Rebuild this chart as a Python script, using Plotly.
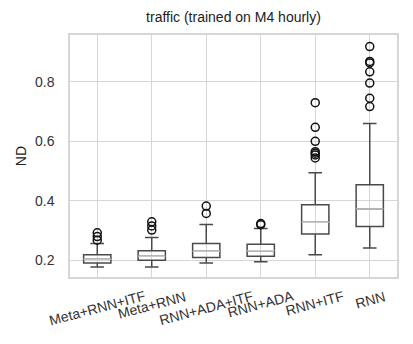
import plotly.graph_objects as go

# box statistics (ND values)
models   = ['Meta+RNN+ITF', 'Meta+RNN', 'RNN+ADA+ITF', 'RNN+ADA', 'RNN+ITF', 'RNN']
q1       = [0.190, 0.199, 0.209, 0.213, 0.288, 0.313]
median   = [0.203, 0.213, 0.230, 0.231, 0.327, 0.372]
q3       = [0.218, 0.231, 0.256, 0.253, 0.386, 0.454]
low_wh   = [0.177, 0.177, 0.190, 0.194, 0.218, 0.241]
high_wh  = [0.256, 0.276, 0.320, 0.306, 0.494, 0.660]

outliers = {
    'Meta+RNN+ITF': [0.267, 0.279, 0.292],
    'Meta+RNN':     [0.301, 0.315, 0.329],
    'RNN+ADA+ITF':  [0.357, 0.382],
    'RNN+ADA':      [0.319, 0.323],
    'RNN+ITF':      [0.544, 0.554, 0.560, 0.565, 0.600, 0.647, 0.730],
    'RNN':          [0.717, 0.745, 0.796, 0.834, 0.864, 0.869, 0.919],
}

yticks = [0.2, 0.4, 0.6, 0.8]

FONT = 'Arial, Liberation Sans, sans-serif'
EDGE = '#4a4a4a'
GRID = '#d6d6d6'

fig = go.Figure()

fig.add_trace(go.Box(
    x=models, q1=q1, median=median, q3=q3,
    lowerfence=low_wh, upperfence=high_wh,
    width=0.5, whiskerwidth=0.5,
    line=dict(color=EDGE, width=1.5),
    fillcolor='rgba(0,0,0,0)',
    boxpoints=False, showlegend=False, hoverinfo='skip',
))

# lighter median line drawn over the box
fig.add_trace(go.Box(
    x=models, q1=median, median=median, q3=median,
    lowerfence=median, upperfence=median,
    width=0.5, whiskerwidth=0,
    line=dict(color='#c8c8c8', width=1.5),
    fillcolor='rgba(0,0,0,0)',
    boxpoints=False, showlegend=False, hoverinfo='skip',
))

ox, oy = [], []
for m in models:
    for v in outliers[m]:
        ox.append(m)
        oy.append(v)
fig.add_trace(go.Scatter(
    x=ox, y=oy, mode='markers', showlegend=False,
    marker=dict(symbol='circle-open', size=8, color='#111111',
                line=dict(width=1.5, color='#111111')),
))

annots = [dict(
    x=m, y=-0.035, xref='x', yref='paper', text=m,
    showarrow=False, textangle=-15, yanchor='top', xanchor='center',
    font=dict(family=FONT, size=14, color='#333333'),
) for m in models]

# page body adds an 8px margin, so the figure is 8px smaller and margins shifted
fig.update_layout(
    width=405, height=336,
    margin=dict(l=59, r=16, t=27, b=67),
    paper_bgcolor='white', plot_bgcolor='white',
    boxmode='overlay',
    font=dict(family=FONT, size=14, color='#333333'),
    title=dict(text='traffic (trained on M4 hourly)', x=0.5, xanchor='center',
               xref='paper', y=0.973, yanchor='middle',
               font=dict(size=14, color='#222222')),
    annotations=annots,
    xaxis=dict(
        type='category', range=[-0.5, 5.5],
        showgrid=True, gridcolor=GRID, gridwidth=1,
        showticklabels=False, ticks='',
        showline=True, linecolor=GRID, linewidth=1.5, mirror=True,
    ),
    yaxis=dict(
        range=[0.143, 0.958], tickvals=yticks, ticktext=[f'{v:.1f}' for v in yticks],
        showgrid=True, gridcolor=GRID, gridwidth=1, zeroline=False,
        showline=True, linecolor=GRID, linewidth=1.5, mirror=True,
        ticks='', ticklabelstandoff=11, tickfont=dict(size=14, color='#333333'),
        title=dict(text='ND', font=dict(size=14, color='#222222'), standoff=5),
    ),
)

fig.write_html('out.html')
